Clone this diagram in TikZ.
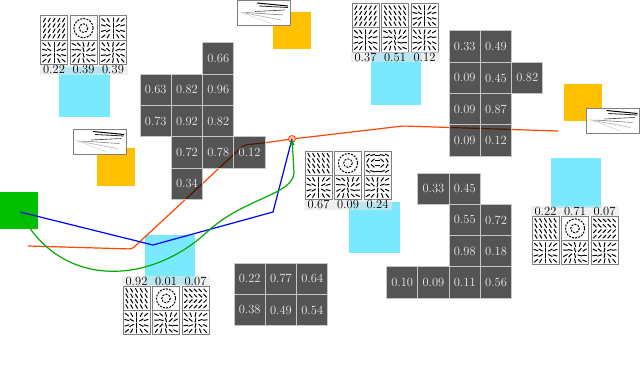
\documentclass[tikz,border=0pt]{standalone}
\usetikzlibrary{arrows.meta}
\definecolor{cyansq}{RGB}{122,232,255}
\definecolor{goldsq}{RGB}{255,192,0}
\definecolor{greensq}{RGB}{0,192,0}
\definecolor{redline}{RGB}{255,69,0}
\definecolor{blueline}{RGB}{0,0,255}
\definecolor{greenline}{RGB}{0,170,0}
\newcommand{\numfont}{\fontsize{12.5}{14}\selectfont}
\tikzset{
  cell/.style={draw=gray!45, line width=1pt, fill=black, fill opacity=0.67, text opacity=1,
    text=white!92!black, minimum size=31.3pt, inner sep=0pt, font=\numfont},
  tileframe/.style={draw=gray, line width=1pt},
  strk/.style={draw=black, line width=1pt, line cap=round},
  ringstrk/.style={draw=black, line width=1pt, dash pattern=on 2pt off 1.2pt},
  lbl/.style={inner sep=0pt, font=\numfont, text=black},
  band/.style={fill=gray!20, fill opacity=0.6},
  fanframe/.style={draw=gray, line width=0.9pt, fill=white},
  rline/.style={draw=redline, line width=1.2pt},
  bline/.style={draw=blueline, line width=1.2pt},
  gline/.style={draw=greenline, line width=1.2pt},
}
% field tile: #1 = left x, #2 = top y, #3 = visual angle expression in \xx,\yy
\newcommand{\ftile}[3]{%
  \fill[white] (#1,#2) rectangle ++(27,24.3);
  \foreach \xx in {-9.6,-4.8,0,4.8,9.6}{%
    \foreach \yy in {-8.1,-2.7,2.7,8.1}{%
      \pgfmathsetmacro\ang{#3}%
      \pgfmathsetmacro\px{#1+13.5+(\xx)}%
      \pgfmathsetmacro\py{#2+12.15+(\yy)}%
      \draw[strk, shift={(\px,\py)}, rotate=\ang] (-2.1,0) -- (2.1,0);
    }}
  \draw[tileframe] (#1,#2) rectangle ++(27,24.3);
}
% ring tile
\newcommand{\rtile}[2]{%
  \fill[white] (#1,#2) rectangle ++(27,24.3);
  \draw[ringstrk] ({#1+13.5},{#2+12.15}) circle (4.3);
  \draw[ringstrk] ({#1+13.5},{#2+12.15}) circle (9.6);
  \draw[tileframe] (#1,#2) rectangle ++(27,24.3);
}
% fan picture box
\newcommand{\fanbox}[2]{%
  \begin{scope}[shift={(#1,#2)}]
    \draw[fanframe] (0,0) rectangle (53,25);
    \draw[gray!35, line width=0.5pt] (2,11) -- (34,23);
    \draw[gray!55, line width=0.7pt] (5,12) -- (44,19.5);
    \draw[gray, line width=0.6pt] (9,12) -- (46,14.5);
    \draw[black!75, line width=0.6pt] (18,11) -- (48,9.5);
    \draw[black!85, line width=0.8pt] (22,5.5) -- (51,7);
    \draw[black, line width=1pt] (20,2.5) -- (51,5.5);
  \end{scope}
}
\newcommand{\mycell}[6]{\node[cell] (#1) at ({#2+31.3*(#4)+15.65},{#3+31.3*(#5)+15.65}) {#6};}
\begin{document}
\begin{tikzpicture}[x=1pt,y=-1pt]
\useasboundingbox (0,0) rectangle (640,369);
% cyan squares
\fill[cyansq] (59,67) rectangle (110,117);
\fill[cyansq] (371,53) rectangle (421,105);
\fill[cyansq] (349,202) rectangle (400,253);
\fill[cyansq] (551,158) rectangle (601,208);
\fill[cyansq] (145,235) rectangle (195,285);
% gold squares
\fill[goldsq] (273,12) rectangle (311,49);
\fill[goldsq] (97,148) rectangle (135,186);
\fill[goldsq] (564,84) rectangle (602,121);
% start square
\fill[greensq] (0,192) rectangle (38,229);
% coordinates
\coordinate (start) at (20,212);
\coordinate (o1) at (28,246);
\coordinate (o2) at (132,249);
\coordinate (o3) at (244,145);
\coordinate (o4) at (263,143);
\coordinate (o5) at (403,126);
\coordinate (o6) at (558,131);
\coordinate (b1) at (153,245);
\coordinate (b2) at (273,212);
% red path
\draw[rline, rounded corners=3pt] (o1) -- (o2) -- (o3) -- (o4) -- (292,139) -- (o5) -- (o6);
\node[draw=redline, fill=redline!35, circle, minimum size=7pt, inner sep=0pt, line width=0.8pt] (goal) at (292,139) {};
% blue path
\draw[bline] (start) -- (b1) -- (b2) -- (goal.center);
% green path
\draw[gline, -{Latex[length=6pt,width=5pt]}] (start) .. controls (60,290) and (150,285) .. (207,232)
  .. controls (245,197) and (294,195) .. (294,172) -- (goal.center);
% group A
\mycell{a1}{140}{43}{2}{0}{0.66}
\mycell{a2}{140}{43}{0}{1}{0.63}
\mycell{a3}{140}{43}{1}{1}{0.82}
\mycell{a4}{140}{43}{2}{1}{0.96}
\mycell{a5}{140}{43}{0}{2}{0.73}
\mycell{a6}{140}{43}{1}{2}{0.92}
\mycell{a7}{140}{43}{2}{2}{0.82}
\mycell{a8}{140}{43}{1}{3}{0.72}
\mycell{a9}{140}{43}{2}{3}{0.78}
\mycell{a10}{140}{43}{3}{3}{0.12}
\mycell{a11}{140}{43}{1}{4}{0.34}
% group B
\mycell{b01}{449}{31}{0}{0}{0.33}
\mycell{b02}{449}{31}{1}{0}{0.49}
\mycell{b03}{449}{31}{0}{1}{0.09}
\mycell{b04}{449}{31}{1}{1}{0.45}
\mycell{b05}{449}{31}{2}{1}{0.82}
\mycell{b06}{449}{31}{0}{2}{0.09}
\mycell{b07}{449}{31}{1}{2}{0.87}
\mycell{b08}{449}{31}{0}{3}{0.09}
\mycell{b09}{449}{31}{1}{3}{0.12}
% group C
\mycell{c1}{386.5}{173}{1}{0}{0.33}
\mycell{c2}{386.5}{173}{2}{0}{0.45}
\mycell{c3}{386.5}{173}{2}{1}{0.55}
\mycell{c4}{386.5}{173}{3}{1}{0.72}
\mycell{c5}{386.5}{173}{2}{2}{0.98}
\mycell{c6}{386.5}{173}{3}{2}{0.18}
\mycell{c7}{386.5}{173}{0}{3}{0.10}
\mycell{c8}{386.5}{173}{1}{3}{0.09}
\mycell{c9}{386.5}{173}{2}{3}{0.11}
\mycell{c10}{386.5}{173}{3}{3}{0.56}
% group D
\mycell{d1}{234}{263}{0}{0}{0.22}
\mycell{d2}{234}{263}{1}{0}{0.77}
\mycell{d3}{234}{263}{2}{0}{0.64}
\mycell{d4}{234}{263}{0}{1}{0.38}
\mycell{d5}{234}{263}{1}{1}{0.49}
\mycell{d6}{234}{263}{2}{1}{0.54}
% tile group top-left
\ftile{40.5}{16}{60}
\rtile{70}{16}
\ftile{99.5}{16}{atan2(-\yy,\xx)}
\ftile{40.5}{40.3}{atan2(-\yy,\xx)}
\ftile{70}{40.3}{atan2(-\yy,\xx)+15}
\ftile{99.5}{40.3}{atan2(-\yy,\xx)-10}
\fill[band] (39.5,64.8) rectangle (127.5,74.8);
\node[lbl] (tl1) at (54,69.8) {0.22};
\node[lbl] (tl2) at (83.5,69.8) {0.39};
\node[lbl] (tl3) at (113,69.8) {0.39};
% tile group top-right
\ftile{352}{3.5}{60}
\ftile{381.5}{3.5}{-60}
\ftile{411}{3.5}{atan2(-\yy,\xx)}
\ftile{352}{27.8}{atan2(-\yy,\xx)}
\ftile{381.5}{27.8}{atan2(-\yy,\xx)+15}
\ftile{411}{27.8}{atan2(-\yy,\xx)-10}
\fill[band] (351,52.3) rectangle (439,62.3);
\node[lbl] (tr1) at (365.5,57.3) {0.37};
\node[lbl] (tr2) at (395,57.3) {0.51};
\node[lbl] (tr3) at (424.5,57.3) {0.12};
% tile group middle
\ftile{305}{151}{-60}
\rtile{334.5}{151}
\ftile{364}{151}{atan2(-\yy,0.5*\xx)+90}
\ftile{305}{175.3}{atan2(-\yy,\xx)}
\ftile{334.5}{175.3}{atan2(-\yy,\xx)+15}
\ftile{364}{175.3}{atan2(-\yy,\xx)-10}
\fill[band] (304,199.8) rectangle (392,209.8);
\node[lbl] (m1) at (318.5,204.8) {0.67};
\node[lbl] (m2) at (348,204.8) {0.09};
\node[lbl] (m3) at (377.5,204.8) {0.24};
% tile group right
\fill[band] (531,206.3) rectangle (619,216.3);
\node[lbl] (r1) at (545.5,211.3) {0.22};
\node[lbl] (r2) at (575,211.3) {0.71};
\node[lbl] (r3) at (604.5,211.3) {0.07};
\ftile{532}{216.3}{-60}
\rtile{561.5}{216.3}
\ftile{591}{216.3}{(\yy<0) ? -45 : 45}
\ftile{532}{240.6}{atan2(-\yy,\xx)}
\ftile{561.5}{240.6}{atan2(-\yy,\xx)+15}
\ftile{591}{240.6}{atan2(-\yy,\xx)-10}
% tile group bottom-left
\fill[band] (122,276.3) rectangle (210,286.3);
\node[lbl] (bl1) at (136.5,281.3) {0.92};
\node[lbl] (bl2) at (166,281.3) {0.01};
\node[lbl] (bl3) at (195.5,281.3) {0.07};
\ftile{123}{286.3}{-60}
\rtile{152.5}{286.3}
\ftile{182}{286.3}{(\yy<0) ? -45 : 45}
\ftile{123}{310.6}{atan2(-\yy,\xx)}
\ftile{152.5}{310.6}{atan2(-\yy,\xx)+15}
\ftile{182}{310.6}{atan2(-\yy,\xx)-10}
% fan boxes
\fanbox{237}{0.5}
\fanbox{73}{129}
\fanbox{586.5}{108}
\end{tikzpicture}
\end{document}
